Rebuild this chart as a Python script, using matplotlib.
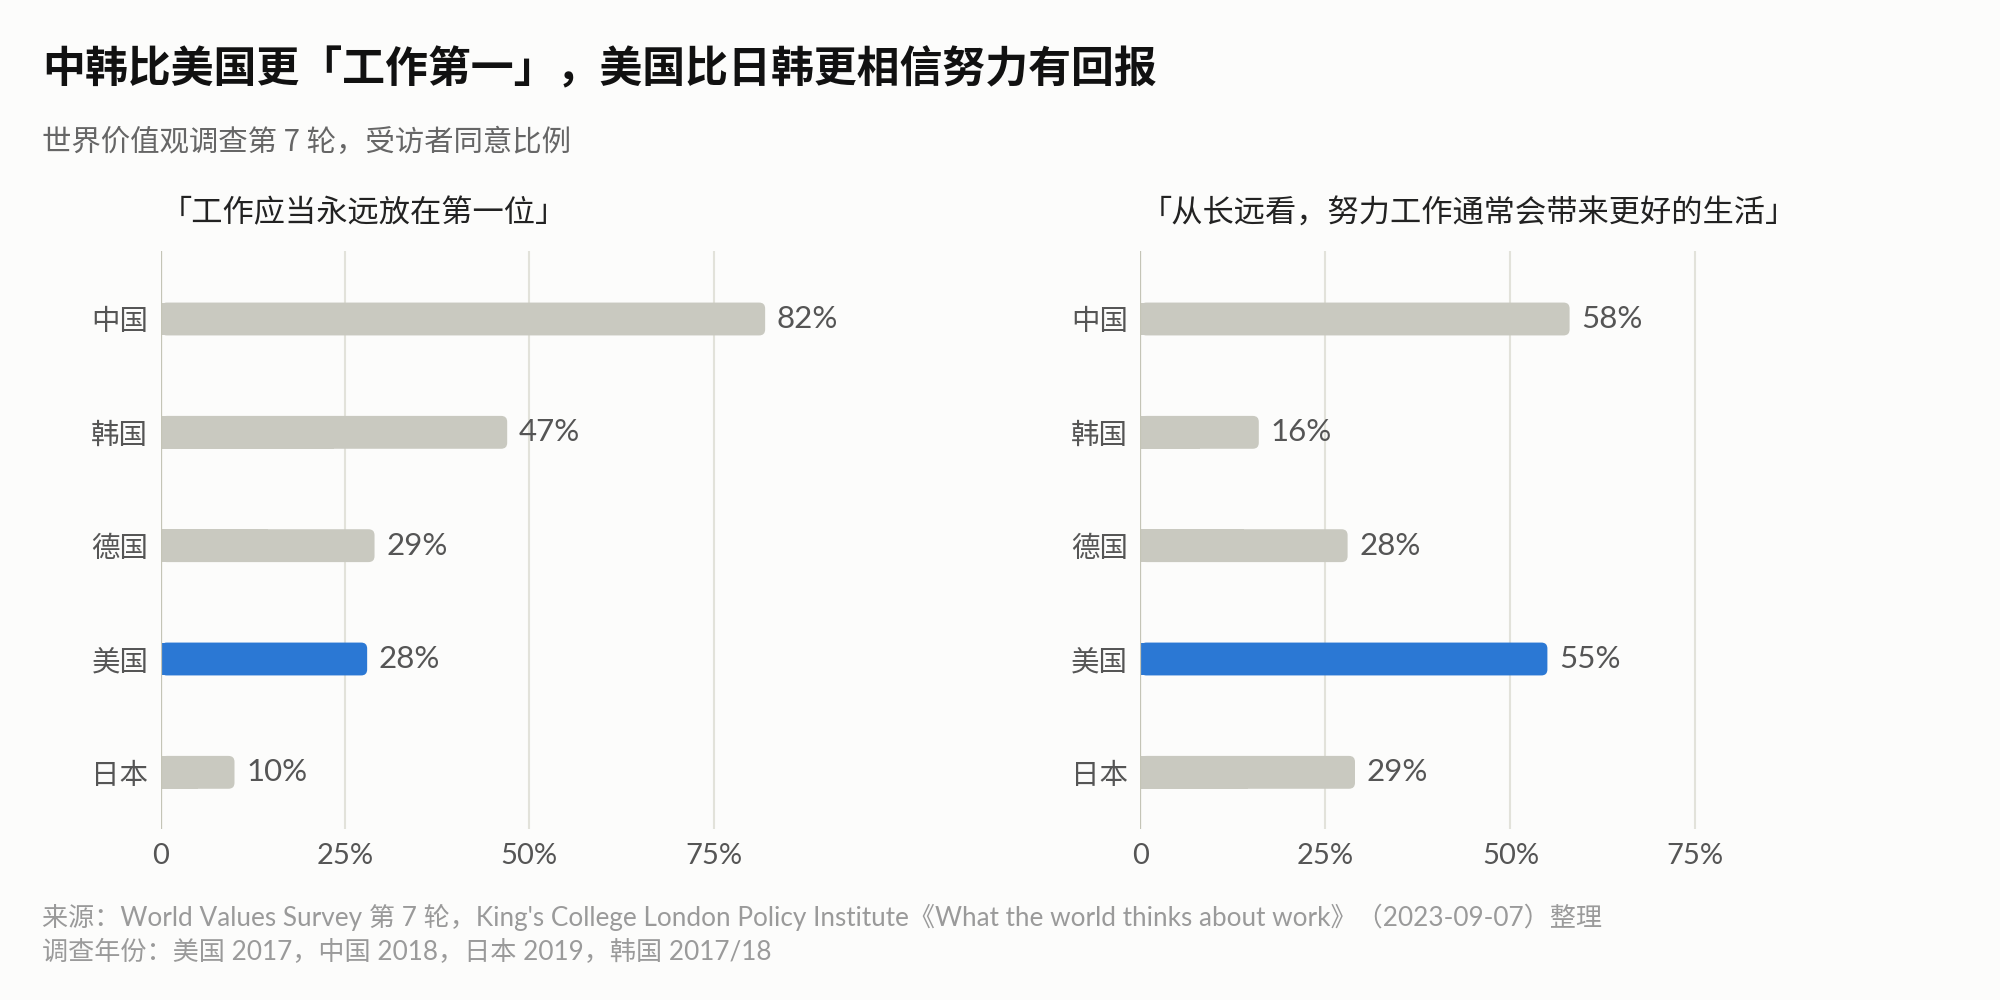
import matplotlib
matplotlib.use('Agg')
import matplotlib.pyplot as plt
from matplotlib.patches import FancyBboxPatch

# data
countries = ['中国', '韩国', '德国', '美国', '日本']
work_first = [82, 47, 29, 28, 10]
effort_pays = [58, 16, 28, 55, 29]
highlight = '美国'

panel_titles = ['「工作应当永远放在第一位」', '「从长远看，努力工作通常会带来更好的生活」']
x_ticks = [0, 25, 50, 75]
x_tick_labels = ['0', '25%', '50%', '75%']

title = '中韩比美国更「工作第一」，美国比日韩更相信努力有回报'
subtitle = '世界价值观调查第 7 轮，受访者同意比例'
source_1 = "来源：World Values Survey 第 7 轮，King's College London Policy Institute《What the world thinks about work》（2023-09-07）整理"
source_2 = '调查年份：美国 2017，中国 2018，日本 2019，韩国 2017/18'

CJK = ['Noto Sans CJK SC', 'DejaVu Sans']
MIX = ['Lato', 'Noto Sans CJK SC', 'DejaVu Sans']
plt.rcParams['font.family'] = CJK

bg = '#fcfcfb'
gray_bar = '#c9c9c0'
blue_bar = '#2b78d4'

fig = plt.figure(figsize=(20, 10), dpi=100, facecolor=bg)


def draw_panel(ax, values, panel_title):
    ax.set_facecolor(bg)
    ax.set_xlim(0, 100)
    ax.set_ylim(4.5, -0.6)
    colors = [blue_bar if c == highlight else gray_bar for c in countries]
    bars = ax.barh(range(len(countries)), values, height=0.29, color=colors, zorder=3)

    # rounded right end: keep a square left half, add a rounded box on top
    bb = ax.get_window_extent()
    px_x = bb.width / 100.0
    px_y = bb.height / 5.1
    aspect = px_x / px_y
    r = 6.0 / px_x
    for b in bars:
        x, y, w, h = b.get_x(), b.get_y(), b.get_width(), b.get_height()
        fc = b.get_facecolor()
        b.set_width(w / 2)
        ax.add_patch(FancyBboxPatch((x, y), w, h,
                                    boxstyle='round,pad=0,rounding_size=%f' % r,
                                    mutation_aspect=aspect, fc=fc, ec='none', zorder=3))

    for i, v in enumerate(values):
        ax.annotate(f'{v}%', xy=(v, i), xytext=(8.5, 0), textcoords='offset points',
                    va='center', ha='left', fontsize=22.5, color='#555555', family=MIX)

    ax.set_yticks(range(len(countries)))
    ax.set_yticklabels(countries, fontsize=20.5, color='#555555')
    ax.set_xticks(x_ticks)
    ax.set_xticklabels(x_tick_labels, fontsize=21, color='#555555', family=MIX)
    ax.tick_params(length=0)
    ax.tick_params(axis='y', pad=9)
    ax.tick_params(axis='x', pad=10)
    ax.grid(axis='x', color='#e2e2da', lw=1.5, zorder=0)
    ax.axvline(0, color='#c4c4b6', lw=1.6, zorder=4)
    for s in ax.spines.values():
        s.set_visible(False)
    ax.text(0, 1.065, panel_title, transform=ax.transAxes, ha='left', va='center',
            fontsize=22.5, color='#222222')


ax1 = fig.add_axes([0.0804, 0.171, 0.3685, 0.578])
ax2 = fig.add_axes([0.5702, 0.171, 0.370, 0.578])
draw_panel(ax1, work_first, panel_titles[0])
draw_panel(ax2, effort_pays, panel_titles[1])

fig.text(0.021, 0.931, title, fontsize=30.9, fontweight='bold', color='#111111', va='center', ha='left')
fig.text(0.021, 0.858, subtitle, fontsize=21.2, color='#666666', va='center', ha='left')
fig.text(0.021, 0.083, source_1, fontsize=18.8, color='#9a9a9a', va='center', ha='left', family=MIX)
fig.text(0.021, 0.047, source_2, fontsize=18.8, color='#9a9a9a', va='center', ha='left', family=MIX)

fig.savefig('out.png', dpi=100, facecolor=bg)
